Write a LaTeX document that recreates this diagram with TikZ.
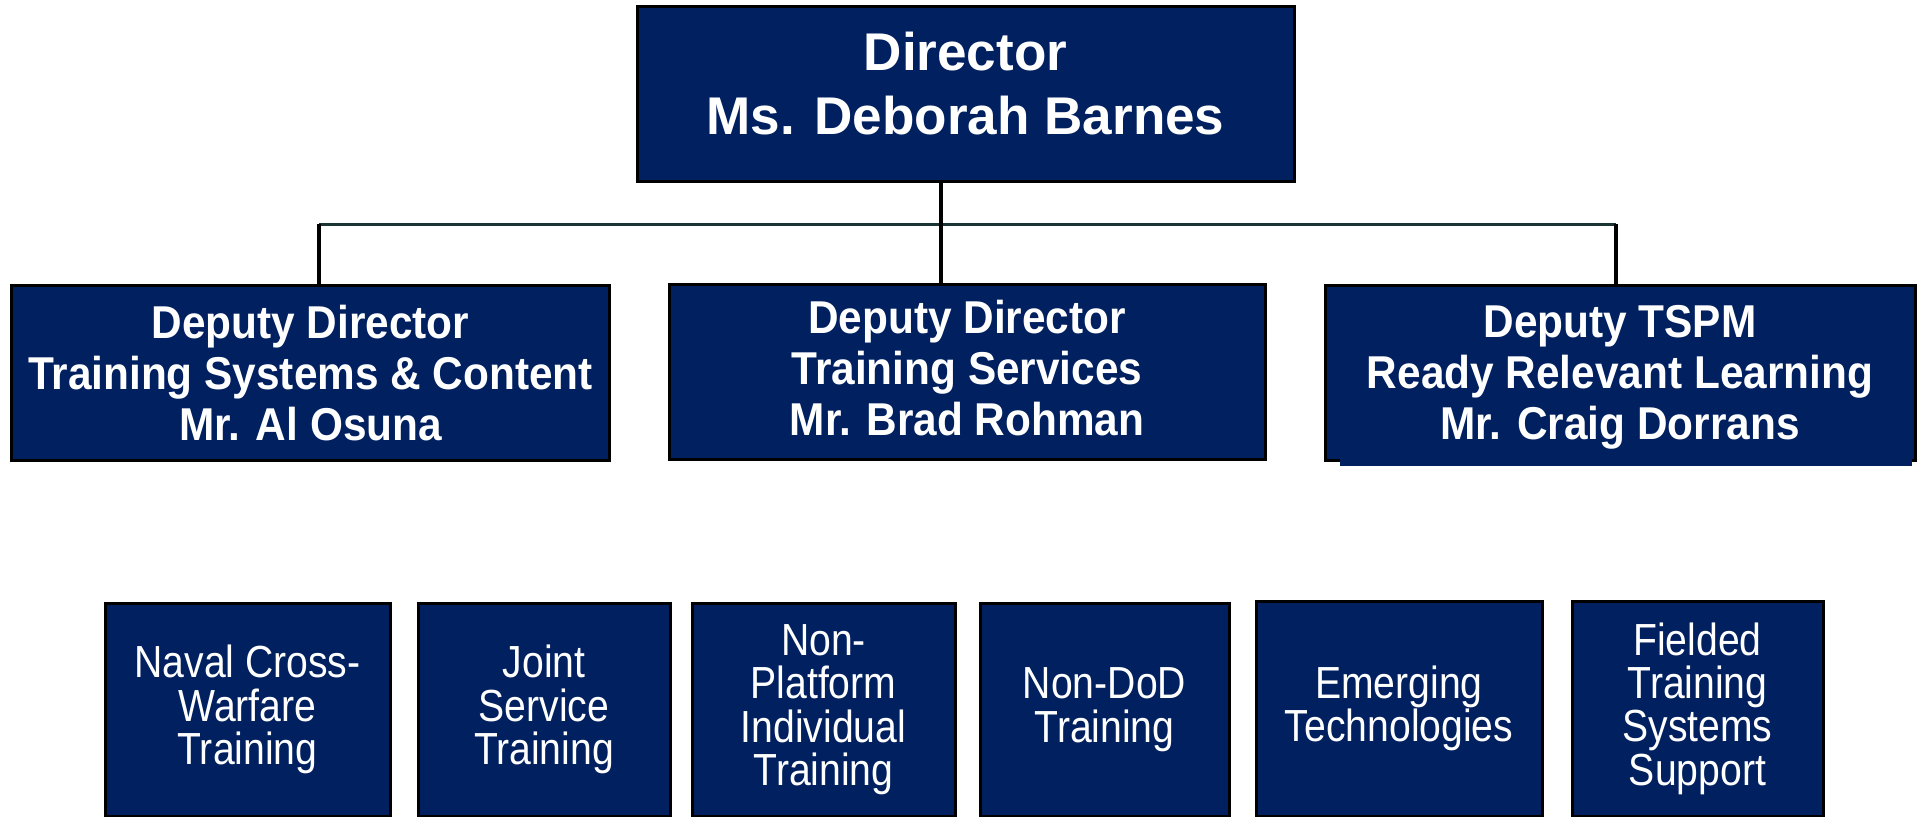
\documentclass[tikz,border=0pt]{standalone}
\usepackage{fontspec}
\setmainfont{Liberation Sans}
\newfontfamily\deputyfont[FakeStretch=0.92]{Liberation Sans}
\newfontfamily\officefont[FakeStretch=0.87]{Liberation Sans}
\definecolor{navy}{HTML}{002060}
\definecolor{busline}{HTML}{1B3436}

\begin{document}
\begin{tikzpicture}[x=1cm, y=1cm,
    box/.style={draw=black, line width=0.03cm, fill=navy, text=white, align=center, inner sep=0pt},
    headbox/.style={box, text depth=0.2cm, font=\bfseries\fontsize{15.1}{18.2}\selectfont},
    deputybox/.style={box, minimum height=1.75cm, text depth=0pt, font=\deputyfont\bfseries\fontsize{13.1}{14.5}\selectfont},
    officebox/.style={box, minimum height=2.13cm, font=\officefont\fontsize{12.8}{12.35}\selectfont},
    link/.style={line width=0.04cm}]
    \useasboundingbox (0,0) rectangle (19.18,-8.16);

    \node[headbox, minimum width=6.57cm, minimum height=1.75cm] (dir) at (9.655,-0.935) {Director\\Ms. Deborah Barnes};

    \node[deputybox, minimum width=5.97cm] (depsys) at (3.105,-3.725) {Deputy Director\\Training Systems \& Content\\Mr. Al Osuna};
    \node[deputybox, minimum width=5.96cm, text depth=0.07cm] (depsvc) at (9.67,-3.715) {Deputy Director\\Training Services\\Mr. Brad Rohman};
    \node[deputybox, minimum width=5.90cm] (deprrl) at (16.20,-3.725) {Deputy TSPM\\Ready Relevant Learning\\Mr. Craig Dorrans};
    \fill[navy] (13.40,-4.56) rectangle (19.12,-4.66);

    \coordinate (bus) at (9.41,-2.24);
    \coordinate (busl) at (3.19,-2.24);
    \coordinate (busr) at (16.16,-2.24);
    \draw[busline, line width=0.03cm] (busl) -- (busr);
    \draw[link] (dir.south -| bus) -- (depsvc.north -| bus);
    \draw[link] (busl) -- (depsys.north -| busl);
    \draw[link] (busr) -- (deprrl.north -| busr);

    \node[officebox, minimum width=2.85cm] (navx) at (2.475,-7.095) {Naval Cross-\\Warfare\\Training};
    \node[officebox, minimum width=2.52cm] (joint) at (5.44,-7.095) {Joint\\Service\\Training};
    \node[officebox, minimum width=2.63cm] (nonplat) at (8.235,-7.095) {Non-\\Platform\\Individual\\Training};
    \node[officebox, minimum width=2.49cm] (nondod) at (11.045,-7.095) {Non-DoD\\Training};
    \node[officebox, minimum width=2.86cm, minimum height=2.15cm] (emerg) at (13.99,-7.085) {Emerging\\Technologies};
    \node[officebox, minimum width=2.51cm, minimum height=2.15cm] (fielded) at (16.975,-7.085) {Fielded\\Training\\Systems\\Support};
\end{tikzpicture}
\end{document}
